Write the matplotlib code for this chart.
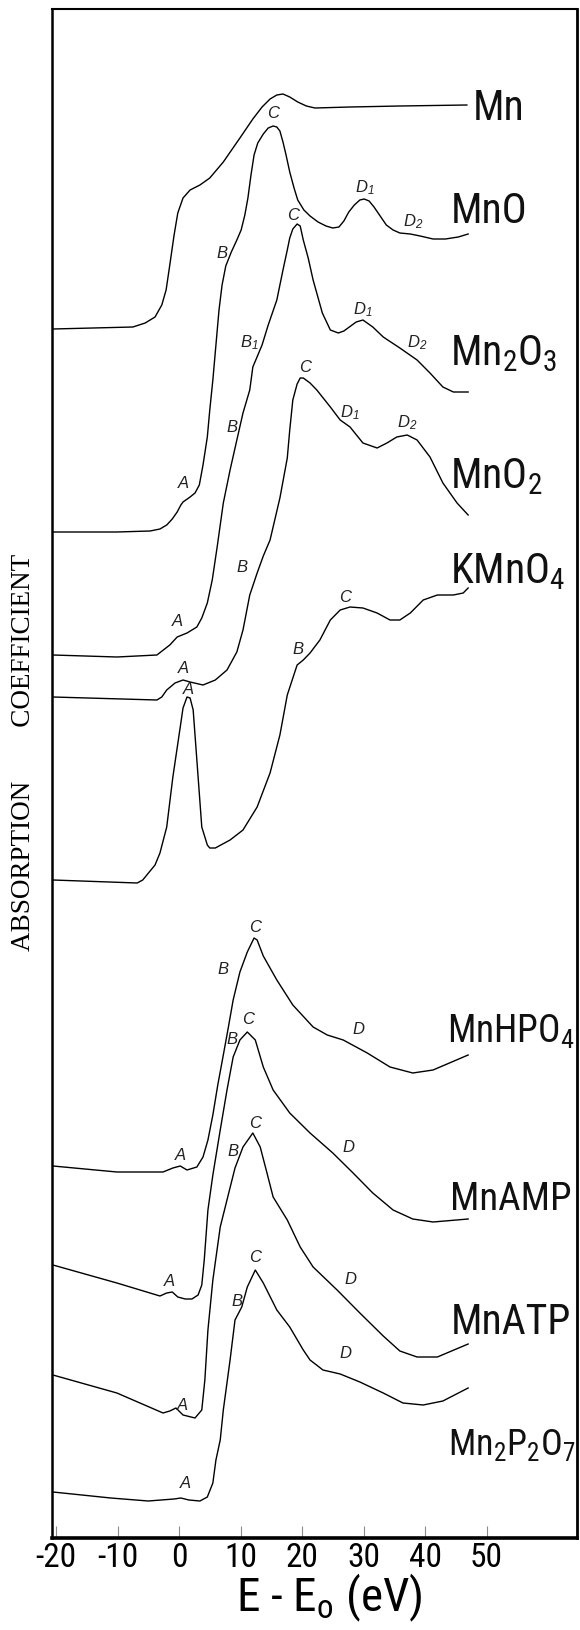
import matplotlib
matplotlib.use("Agg")
import matplotlib.pyplot as plt
from matplotlib import font_manager

# narrow sans for the compound names and axis numbers, if one is installed
avail = {f.name for f in font_manager.fontManager.ttflist}
narrow = next((n for n in ['Roboto Condensed', 'Liberation Sans Narrow',
                           'Open Sans Condensed', 'DejaVu Sans Condensed']
               if n in avail), 'DejaVu Sans')

plt.rcParams['mathtext.default'] = 'regular'

# energies E - E0 (eV) and absorption (arbitrary units, curves stacked)
e_mn = [-20.5, -7.5, -5.5, -3.9, -2.8, -2.1, -1.5, -0.8, -0.2, 0.65, 1.8, 3.4, 5.0,
        7.2, 9.9, 12.0, 13.5, 14.8, 15.9, 16.9, 18.0, 19.3, 20.7, 22.1, 27.8, 35.9, 46.8]
mu_mn = [12.09, 12.11, 12.15, 12.21, 12.33, 12.48, 12.73, 13.03, 13.25, 13.40, 13.48,
         13.53, 13.60, 13.76, 14.00, 14.19, 14.31, 14.39, 14.43, 14.44, 14.41, 14.36,
         14.32, 14.30, 14.31, 14.32, 14.33]

e_mno = [-20.5, -10.1, -4.7, -3.1, -2.0, -1.1, -0.3, 0.3, 0.65, 1.8, 2.6, 3.3, 3.9, 4.6,
         5.0, 5.5, 6.0, 6.5, 7.0, 7.6, 8.5, 9.4, 10.1, 10.7, 11.2, 11.7, 12.2, 12.8, 13.7,
         14.5, 15.3, 15.9, 16.4, 16.9, 17.4, 18.0, 18.7, 19.3, 20.3, 21.3, 22.6, 23.9,
         25.0, 26.0, 26.8, 27.6, 28.5, 29.4, 30.1, 30.9, 31.7, 32.7, 33.7, 34.8, 35.9,
         37.6, 39.2, 41.3, 43.3, 45.4, 47.0]
mu_mno = [10.06, 10.06, 10.07, 10.09, 10.13, 10.19, 10.26, 10.33, 10.36, 10.41, 10.45,
          10.53, 10.73, 11.01, 11.28, 11.58, 11.93, 12.28, 12.53, 12.72, 12.86, 12.98,
          13.08, 13.23, 13.40, 13.63, 13.83, 13.95, 14.04, 14.10, 14.12, 14.11, 14.07,
          13.96, 13.83, 13.66, 13.50, 13.38, 13.28, 13.22, 13.16, 13.12, 13.10, 13.11,
          13.17, 13.26, 13.33, 13.38, 13.39, 13.37, 13.31, 13.22, 13.13, 13.08, 13.05,
          13.04, 13.02, 12.99, 12.99, 13.01, 13.04]

e_mn2o3 = [-20.5, -10.1, -3.6, -1.5, -0.3, 1.3, 2.9, 3.7, 4.6, 5.4, 6.2, 7.2, 8.3, 9.4,
           10.4, 11.5, 12.0, 13.5, 14.5, 15.9, 16.9, 17.6, 18.0, 18.5, 19.2, 19.7, 20.2,
           21.0, 21.8, 23.3, 24.6, 25.9, 26.8, 28.8, 29.9, 31.5, 33.2, 35.9, 38.7, 40.8,
           42.9, 44.6, 47.0]
mu_mn2o3 = [8.83, 8.81, 8.83, 8.93, 9.01, 9.05, 9.11, 9.20, 9.35, 9.58, 9.91, 10.35,
            10.68, 10.98, 11.25, 11.48, 11.71, 11.93, 12.13, 12.38, 12.68, 12.88, 13.00,
            13.09, 13.14, 13.12, 12.98, 12.80, 12.58, 12.25, 12.08, 12.05, 12.07, 12.16,
            12.18, 12.11, 12.01, 11.90, 11.78, 11.65, 11.51, 11.46, 11.46]

e_mno2 = [-20.5, -3.6, -2.8, -2.0, -0.65, 0.65, 1.8, 3.9, 5.9, 7.8, 9.4, 10.4, 11.5,
          12.7, 13.7, 14.8, 16.4, 17.6, 18.0, 18.5, 19.2, 19.7, 20.2, 21.3, 22.4, 24.6,
          26.2, 27.8, 29.9, 32.2, 33.8, 35.4, 37.1, 38.7, 40.8, 42.9, 45.2, 47.0]
mu_mno2 = [8.41, 8.38, 8.41, 8.48, 8.55, 8.58, 8.56, 8.53, 8.58, 8.68, 8.86, 9.08, 9.43,
           9.65, 9.82, 9.98, 10.40, 10.80, 11.08, 11.38, 11.54, 11.60, 11.60, 11.55,
           11.48, 11.31, 11.18, 11.11, 10.95, 10.90, 10.95, 11.01, 11.03, 10.98, 10.81,
           10.55, 10.35, 10.23]

e_kmno4 = [-20.5, -6.8, -5.9, -3.9, -3.1, -2.0, -1.0, 0.2, 0.65, 1.3, 1.8, 2.3, 2.9, 3.7,
           4.6, 5.0, 5.9, 8.3, 10.4, 12.7, 14.8, 16.4, 17.6, 19.2, 20.2, 21.3, 22.9, 24.6,
           26.2, 27.8, 29.9, 32.2, 34.3, 35.9, 37.6, 39.7, 42.0, 44.6, 46.2, 47.0]
mu_kmno4 = [6.58, 6.55, 6.58, 6.73, 6.85, 7.11, 7.61, 8.11, 8.30, 8.41, 8.40, 8.28, 7.78,
            7.11, 6.93, 6.90, 6.90, 6.98, 7.08, 7.31, 7.65, 8.03, 8.43, 8.73, 8.78, 8.85,
            8.98, 9.18, 9.28, 9.31, 9.30, 9.25, 9.18, 9.18, 9.25, 9.38, 9.43, 9.43, 9.45,
            9.50]

e_mnhpo4 = [-20.5, -10.1, -2.6, -1.0, 0.2, 1.3, 2.9, 3.9, 4.7, 5.5, 6.3, 7.2, 8.0, 8.8,
            9.9, 11.1, 12.2, 12.7, 13.7, 15.9, 18.5, 19.7, 21.8, 24.1, 26.7, 30.6, 34.3,
            38.0, 41.3, 47.0]
mu_mnhpo4 = [3.72, 3.66, 3.66, 3.70, 3.72, 3.68, 3.71, 3.81, 3.98, 4.23, 4.53, 4.83,
             5.10, 5.38, 5.66, 5.86, 6.00, 5.98, 5.82, 5.58, 5.33, 5.25, 5.11, 5.03,
             4.98, 4.85, 4.71, 4.65, 4.68, 4.83]

e_mnamp = [-20.5, -10.1, -3.1, -2.0, -1.1, -0.2, 1.0, 2.1, 3.1, 3.7, 4.1, 4.7, 5.5, 6.7,
           7.8, 8.8, 9.9, 11.1, 12.4, 13.7, 15.3, 18.0, 21.3, 25.0, 28.3, 31.5, 34.8,
           38.0, 41.3, 47.0]
mu_mnamp = [2.73, 2.55, 2.42, 2.45, 2.46, 2.41, 2.39, 2.39, 2.43, 2.53, 2.78, 3.28, 3.63,
            4.08, 4.48, 4.81, 4.98, 5.06, 4.98, 4.71, 4.48, 4.25, 4.05, 3.85, 3.65, 3.45,
            3.28, 3.19, 3.16, 3.19]

e_mnatp = [-20.5, -10.1, -2.6, -1.5, -0.5, 0.65, 2.6, 3.7, 4.2, 4.7, 5.5, 6.7, 8.0, 9.1,
           10.4, 12.0, 13.2, 14.3, 15.3, 17.6, 19.7, 21.8, 25.7, 29.4, 33.2, 35.9, 38.7,
           42.0, 47.0]
mu_mnatp = [1.63, 1.45, 1.25, 1.27, 1.30, 1.23, 1.20, 1.28, 1.58, 2.08, 2.58, 3.11, 3.43,
            3.70, 3.91, 4.05, 3.91, 3.65, 3.41, 3.18, 2.91, 2.71, 2.48, 2.25, 2.02, 1.87,
            1.81, 1.81, 1.94]

e_mn2p2o7 = [-20.5, -11.1, -5.0, -0.8, 0.3, 1.6, 3.4, 4.6, 5.5, 6.0, 6.7, 7.2, 8.3, 9.1,
             10.2, 11.1, 12.4, 13.7, 15.9, 18.0, 20.2, 21.3, 23.4, 26.2, 29.4, 33.2,
             36.4, 39.7, 42.9, 47.0]
mu_mn2p2o7 = [0.46, 0.40, 0.37, 0.39, 0.40, 0.38, 0.37, 0.41, 0.55, 0.78, 0.98, 1.28,
              1.78, 2.18, 2.31, 2.51, 2.68, 2.55, 2.28, 2.11, 1.88, 1.78, 1.68, 1.64,
              1.56, 1.45, 1.35, 1.33, 1.37, 1.50]

# compound names and where they sit (E, baseline)
names = ['Mn', 'MnO', 'Mn$_2$O$_3$', 'MnO$_2$', 'KMnO$_4$',
         'MnHPO$_4$', 'MnAMP', 'MnATP', 'Mn$_2$P$_2$O$_7$']
name_e = [47.8, 44.1, 44.1, 44.1, 44.1, 43.6, 44.1, 44.1, 43.8]
name_mu = [14.18, 13.15, 11.73, 10.50, 9.55, 4.95, 3.28, 2.04, 0.83]
name_size = [30, 30, 30, 30, 30, 27, 28, 30, 26]

# feature letters
feat_txt = ['A', 'B', 'C', 'D$_1$', 'D$_2$',
            'A', 'B', 'B$_1$', 'C', 'D$_1$', 'D$_2$',
            'A', 'B', 'C', 'D$_1$', 'D$_2$',
            'A', 'B', 'C',
            'A', 'B', 'C', 'D',
            'A', 'B', 'C', 'D',
            'A', 'B', 'C', 'D',
            'A', 'B', 'C', 'D']
feat_e = [0.65, 7.0, 15.3, 30.2, 38.0,
          -0.3, 8.6, 11.5, 18.5, 29.9, 38.7,
          0.65, 10.2, 20.5, 27.8, 37.1,
          1.5, 19.3, 27.0,
          0.2, 7.2, 12.4, 29.1,
          -1.5, 8.6, 11.2, 27.5,
          0.5, 8.8, 12.4, 27.8,
          1.0, 9.4, 12.4, 27.0]
feat_mu = [10.55, 12.85, 14.25, 13.50, 13.16,
           9.16, 11.11, 11.95, 13.23, 12.28, 11.95,
           8.70, 9.71, 11.71, 11.25, 11.15,
           8.48, 8.88, 9.41,
           3.83, 5.68, 6.10, 5.08,
           2.56, 4.98, 5.18, 3.91,
           1.32, 3.86, 4.15, 2.58,
           0.55, 2.36, 2.80, 1.84]

xticks = [-20, -10, 0, 10, 20, 30, 40, 50]

curves = [(e_mn, mu_mn), (e_mno, mu_mno), (e_mn2o3, mu_mn2o3), (e_mno2, mu_mno2),
          (e_kmno4, mu_kmno4), (e_mnhpo4, mu_mnhpo4), (e_mnamp, mu_mnamp),
          (e_mnatp, mu_mnatp), (e_mn2p2o7, mu_mn2p2o7)]

fig = plt.figure(figsize=(5.8, 16.3), dpi=100)
ax = fig.add_axes([52 / 580, 92 / 1630, 525 / 580, 1529 / 1630])

for e, mu in curves:
    ax.plot(e, mu, color='black', lw=1.0, solid_joinstyle='round')

for t, x, y, s in zip(names, name_e, name_mu, name_size):
    ax.text(x, y, t, fontsize=s, family=narrow, fontstretch='condensed',
            ha='left', va='baseline', color='#111111')

for t, x, y in zip(feat_txt, feat_e, feat_mu):
    ax.text(x, y, t, fontsize=12, family='Liberation Sans', style='italic',
            ha='center', va='center', color='#222222')

ax.set_xlim(-20.65, 64.7)
ax.set_ylim(0, 15.29)
ax.set_xticks(xticks)
ax.set_xticklabels([str(v) for v in xticks], family=narrow, fontstretch='condensed',
                   fontsize=24)
ax.tick_params(axis='x', direction='in', length=9, width=0.8, color='0.55', pad=3)
ax.set_yticks([])

ax.set_xlabel('E - E$_o$ (eV)', family=narrow, fontstretch='condensed',
              fontsize=34, labelpad=0)
ax.xaxis.set_label_coords(0.528, -0.022)
ax.set_ylabel('ABSORPTION        COEFFICIENT', family='Liberation Serif',
              fontsize=19.5)
ax.yaxis.set_label_coords(-0.030, 0.514)

for side, w in [('left', 1.8), ('right', 2.0), ('top', 1.5), ('bottom', 2.6)]:
    ax.spines[side].set_linewidth(w)

fig.savefig('out.png', dpi=100)
